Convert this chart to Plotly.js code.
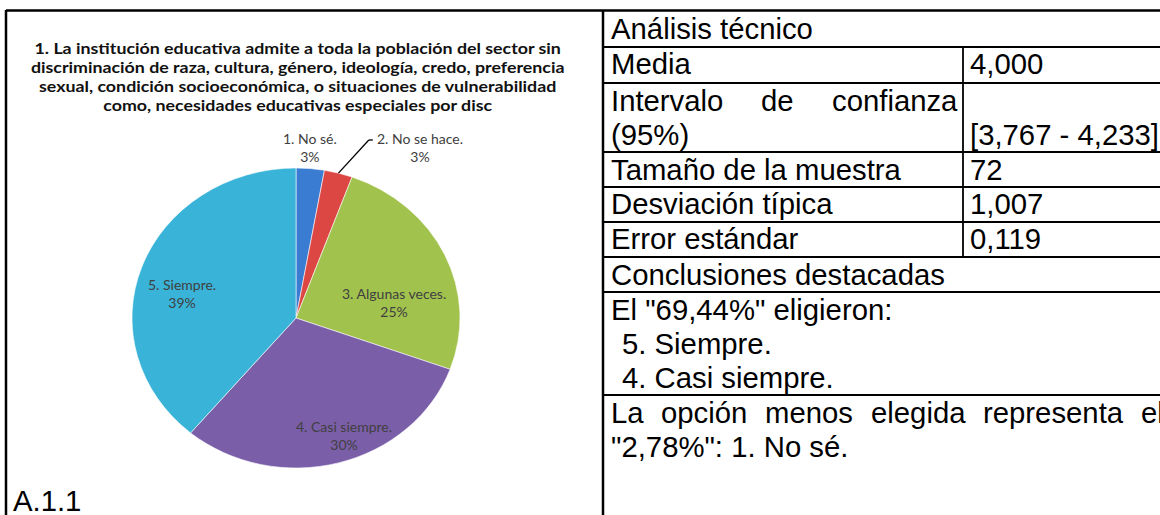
<!DOCTYPE html>
<html>
<head>
<meta charset="utf-8">
<script src="https://cdn.plot.ly/plotly-3.0.1.min.js"></script>
<style>
  html, body { margin: 0; padding: 0; background: #ffffff; }
  #chart { width: 1160px; height: 515px; }
</style>
</head>
<body>
<div id="chart"></div>
<script>
// ---------- data ----------
const categories = ['1. No sé.', '2. No se hace.', '3. Algunas veces.', '4. Casi siempre.', '5. Siempre.'];
const counts = [2, 2, 18, 22, 28];
const pctLabels = ['3%', '3%', '25%', '30%', '39%'];
const sliceColors = ['#3a7cd2', '#dc4744', '#a2c24e', '#7b5ea8', '#39b3d8'];

const chartTitle = '1. La institución educativa admite a toda la población del sector sin<br>' +
  'discriminación de raza, cultura, género, ideología, credo, preferencia<br>' +
  'sexual, condición socioeconómica, o situaciones de vulnerabilidad<br>' +
  'como, necesidades educativas especiales por disc';

const tableHeader = 'Análisis técnico';
const statLabels = ['Media', 'Intervalo de confianza (95%)', 'Tamaño de la muestra', 'Desviación típica', 'Error estándar'];
const statValues = ['4,000', '[3,767 - 4,233]', '72', '1,007', '0,119'];
const conclHeader = 'Conclusiones destacadas';
const conclIntro = 'El "69,44%" eligieron:';
const conclOptions = ['5. Siempre.', '4. Casi siempre.'];
const leastText = ['La opción menos elegida representa el', '"2,78%": 1. No sé.'];
const figureCaption = 'A.1.1';

// ---------- layout constants ----------
const W = 1160, H = 515;
const px = x => x / W;
const py = y => 1 - y / H;
const TSIZE = 29.3;
const TFONT = {family: 'Liberation Sans, Arial, sans-serif', size: TSIZE, color: '#000000'};
const ctx = document.createElement('canvas').getContext('2d');
ctx.font = TSIZE + "px 'Liberation Sans'";

// pie placement (drawn as circle, then flattened vertically like the reference)
const CX = 296, CY = 318, RX = 164, RY = 150;
const PIE_K = RY / RX;
// label block centres relative to the pie, in fractions of the radii
const labelOffsets = [[0.085, -1.14], [0.755, -1.14], [0.596, -0.104], [0.29, 0.78], [-0.695, -0.166]];
const TITLE_Y = 76.5, TITLE_K = 0.82;

const annotations = [];
const shapes = [];

function txt(text, x, y, anchor) {
  annotations.push({text: text, x: px(x - 2), y: py(y), xref: 'paper', yref: 'paper',
    xanchor: anchor || 'left', yanchor: 'middle', showarrow: false, font: TFONT});
}
function justify(text, x0, x1, y) {
  const words = text.split(' ');
  const ws = words.map(w => ctx.measureText(w).width);
  const tot = ws.reduce((a, b) => a + b, 0);
  const gap = (x1 - x0 - tot) / (words.length - 1);
  let x = x0;
  words.forEach((w, i) => { txt(w, x, y); x += ws[i] + gap; });
}
function line(x0, y0, x1, y1, w) {
  shapes.push({type: 'line', xref: 'paper', yref: 'paper', x0: px(x0), y0: py(y0), x1: px(x1), y1: py(y1),
    line: {color: '#000000', width: w}});
}

// ---------- frame / table grid ----------
line(6, 10.5, 1160, 10.5, 2.5);
line(6, 10, 6, 515, 2.5);
line(603, 10, 603, 515, 2.5);
const rowLines = [47, 83, 152, 187, 222, 257, 292, 395];
rowLines.forEach(y => line(603, y, 1160, y, 1.8));
line(963, 47, 963, 257, 1.8);

// ---------- table text ----------
const LX = 611, VX = 970;
txt(tableHeader, LX, 28);
const rowTops = [47, 83, 152, 187, 222];
statLabels.forEach((lab, i) => {
  const top = rowTops[i];
  if (i === 1) {
    const parts = lab.split(' (');
    justify(parts[0], LX, 957, top + 17);
    txt('(' + parts[1], LX, top + 51);
    txt(statValues[i], VX, top + 51);
  } else {
    txt(lab, LX, top + 17);
    txt(statValues[i], VX, top + 17);
  }
});
txt(conclHeader, LX, 274);
txt(conclIntro, LX, 309);
conclOptions.forEach((o, i) => txt(o, 622, 343 + 34 * i));
justify(leastText[0], LX, 1164, 412);
txt(leastText[1], LX, 446);
txt(figureCaption, 13, 500);

// ---------- chart title ----------
const titleIndex = annotations.length;
annotations.push({text: chartTitle, x: px(297), y: py(TITLE_Y), xref: 'paper', yref: 'paper',
  xanchor: 'center', yanchor: 'middle', align: 'center', showarrow: false,
  font: {family: 'Lato, sans-serif', size: 17.8, weight: 700, color: '#111111'}});

// ---------- pie labels ----------
const total = counts.reduce((a, b) => a + b, 0);
const LFONT = {family: 'Lato, sans-serif', size: 14, color: '#404040'};
categories.forEach((c, i) => {
  const off = labelOffsets[i];
  annotations.push({text: c + '<br>' + pctLabels[i], x: px(CX + off[0] * RX), y: py(CY + off[1] * RY),
    xref: 'paper', yref: 'paper', xanchor: 'center', yanchor: 'middle', align: 'center',
    showarrow: false, font: LFONT});
});
// leader line for the second (small) slice
const midRed = (counts[0] + counts[1] / 2) / total * 2 * Math.PI;
const tipX = CX + RX * Math.sin(midRed), tipY = CY - RY * Math.cos(midRed);
const lab2Left = CX + labelOffsets[1][0] * RX - 47, lab2Top = CY + labelOffsets[1][1] * RY - 7;
line(lab2Left, lab2Top, lab2Left - 4, lab2Top, 1.3);
line(lab2Left - 4, lab2Top, tipX, tipY, 1.3);

const data = [{
  type: 'pie',
  labels: categories,
  values: counts,
  customdata: pctLabels,
  sort: false,
  direction: 'clockwise',
  rotation: 0,
  marker: {colors: sliceColors, line: {color: 'rgba(255,255,255,0.6)', width: 1}},
  textinfo: 'none',
  domain: {x: [px(CX - RX), px(CX + RX)], y: [py(CY + RX), py(CY - RX)]},
  hoverinfo: 'none',
  showlegend: false
}];

const layout = {
  width: W, height: H,
  margin: {l: 0, r: 0, t: 0, b: 0},
  paper_bgcolor: '#ffffff',
  plot_bgcolor: '#ffffff',
  showlegend: false,
  annotations: annotations,
  shapes: shapes
};

Plotly.newPlot('chart', data, layout, {displayModeBar: false, staticPlot: true}).then(gd => {
  const pl = gd.querySelector('.pielayer');
  if (pl) pl.setAttribute('transform', 'matrix(1 0 0 ' + PIE_K + ' 0 ' + (CY * (1 - PIE_K)) + ')');
  const tg = gd.querySelector('.infolayer g.annotation[data-index="' + titleIndex + '"]');
  if (tg) {
    const prev = tg.getAttribute('transform') || '';
    tg.setAttribute('transform', 'matrix(1 0 0 ' + TITLE_K + ' 0 ' + (TITLE_Y * (1 - TITLE_K)) + ') ' + prev);
  }
});
</script>
</body>
</html>
